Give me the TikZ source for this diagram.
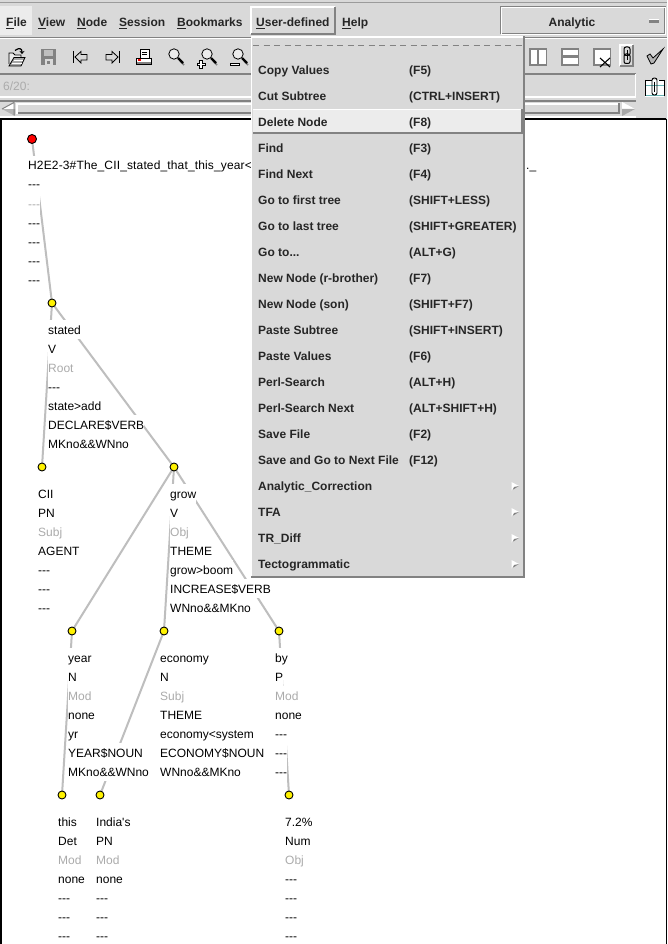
\documentclass[tikz,border=0pt]{standalone}
\usepackage{fontspec}
\newfontfamily\uifont{Liberation Sans}
\usetikzlibrary{calc,arrows.meta}
\definecolor{chrome}{HTML}{D9D9D9}
\definecolor{lite}{HTML}{ECECEC}
\definecolor{bevelgray}{HTML}{828282}
\definecolor{edgegray}{HTML}{BEBEBE}
\definecolor{dim}{HTML}{ABABAB}
\pgfdeclarelayer{canvas}\pgfdeclarelayer{edges}\pgfdeclarelayer{chromelayer}
\pgfsetlayers{canvas,edges,main,chromelayer}
\newcommand\dimt[1]{\textcolor{dim}{#1}}
\newcommand\gotolabel{Go to...}
\newcommand\ulc[1]{\setbox0\hbox{#1}\rlap{\rule[-2.6pt]{\wd0}{1pt}}#1}
\newcommand\rowsat[4]{\foreach \t [count=\i from 0] in {#4} {\node[rowtext] (#1-\i) at (#2,{#3+19*\i+4}) {\t};}}
\newcommand\raisedbox[4]{%
  \fill[chrome] (#1,#2) rectangle (#3,#4);
  \draw[white,line width=2pt] (#1+1,#4-1) -- (#1+1,#2+1) -- (#3-1,#2+1);
  \draw[bevelgray,line width=2pt] (#1+1,#4-1) -- (#3-1,#4-1) -- (#3-1,#2+1);}
\newcommand\magglass[2]{%
  \draw[bevelgray,line width=1.5pt] (#1+6,#2+7) -- (#1+10,#2+11);
  \draw[black,line width=2.4pt] (#1+4,#2+4) -- (#1+9,#2+9);
  \draw[black,fill=lite,line width=.8pt] (#1,#2) circle (5.2);}
\tikzset{
  rowtext/.style={anchor=base west,inner sep=0pt,fill=white,text height=14.4pt,text depth=4.6pt,text=black,font=\uifont\fontsize{12}{14}\selectfont},
  treedot/.style={circle,draw=black,line width=.9pt,fill=yellow,minimum size=8pt,inner sep=0pt},
  rootdot/.style={treedot,fill=red,minimum size=9pt},
  link/.style={draw=edgegray,line width=2pt},
  menutext/.style={anchor=base west,inner sep=0pt,text=black!85,font=\uifont\bfseries\fontsize{12}{14}\selectfont},
  plaintext/.style={anchor=base west,inner sep=0pt,text=black,font=\uifont\fontsize{12}{14}\selectfont},
  icon/.style={draw=black,line width=.8pt},
}
\begin{document}
\begin{tikzpicture}[x=1pt,y=-1pt]
\useasboundingbox (0,0) rectangle (667,944);
\begin{pgfonlayer}{canvas}
  \fill[chrome] (0,0) rectangle (667,944);
  \fill[white] (0,119) rectangle (666,944);
  \draw[black,line width=2.4pt] (0.8,944) -- (0.8,119.2) -- (666,119.2);
  \draw[black,line width=1pt] (666,119) -- (666,944);
\end{pgfonlayer}

% tree nodes
\node[rootdot] (root) at (32,139) {};
\node[treedot] (stated) at (52,303) {};
\node[treedot] (cii) at (42,467) {};
\node[treedot] (grow) at (174,467) {};
\node[treedot] (year) at (72,631) {};
\node[treedot] (economy) at (164,631) {};
\node[treedot] (by) at (279,631) {};
\node[treedot] (this) at (62,795) {};
\node[treedot] (india) at (100,795) {};
\node[treedot] (num) at (289,795) {};

\begin{pgfonlayer}{edges}
  \draw[link] (root.center) -- (stated.center);
  \draw[link] (stated.center) -- (cii.center);
  \draw[link] (stated.center) -- (grow.center);
  \draw[link] (grow.center) -- (year.center);
  \draw[link] (grow.center) -- (economy.center);
  \draw[link] (grow.center) -- (by.center);
  \draw[link] (year.center) -- (this.center);
  \draw[link] (economy.center) -- (india.center);
  \draw[link] (by.center) -- (num.center);
\end{pgfonlayer}

\rowsat{rootrow}{28}{166}{{\addfontfeature{LetterSpace=1.2}H2E2-3\#The\_CII\_stated\_that\_this\_year<},---,\dimt{---},---,---,---,---}
\node[rowtext] (rootend) at (526,170) {.\_};
\rowsat{statedrow}{48}{330}{stated,V,\dimt{Root},---,state>add,DECLARE\$VERB,MKno\&\&WNno}
\rowsat{ciirow}{38}{494}{CII,PN,\dimt{Subj},AGENT,---,---,---}
\rowsat{growrow}{170}{494}{grow,V,\dimt{Obj},THEME,grow>boom,INCREASE\$VERB,WNno\&\&MKno}
\rowsat{yearrow}{68}{658}{year,N,\dimt{Mod},none,yr,YEAR\$NOUN,MKno\&\&WNno}
\rowsat{economyrow}{160}{658}{economy,N,\dimt{Subj},THEME,economy<system,ECONOMY\$NOUN,WNno\&\&MKno}
\rowsat{byrow}{275}{658}{by,P,\dimt{Mod},none,---,---,---}
\rowsat{thisrow}{58}{822}{this,Det,\dimt{Mod},none,---,---,---}
\rowsat{indiarow}{96}{822}{India's,PN,\dimt{Mod},none,---,---,---}
\rowsat{numrow}{285}{822}{7.2\%,Num,\dimt{Obj},---,---,---,---}

\begin{pgfonlayer}{chromelayer}
  % top bars
  \draw[bevelgray!80,line width=1pt] (0,2.5) -- (667,2.5);
  \fill[lite] (0,6) rectangle (32,35);
  \draw[bevelgray,line width=1pt] (0,37.2) -- (667,37.2);
  \draw[white,line width=1.2pt] (0,38.6) -- (667,38.6);
  \node[menutext] (mfile) at (6,26.5) {\ulc{F}ile};
  \node[menutext] (mview) at (38,26.5) {\ulc{V}iew};
  \node[menutext] (mnode) at (77,26.5) {\ulc{N}ode};
  \node[menutext] (msession) at (119,26.5) {\ulc{S}ession};
  \node[menutext] (mbook) at (177,26.5) {\ulc{B}ookmarks};
  \node[menutext] (mhelp) at (342,26.5) {\ulc{H}elp};
  % Analytic selector
  \fill[chrome] (500,6) rectangle (666,35);
  \draw[bevelgray,line width=1pt] (500.5,34.5) -- (500.5,6.5) -- (665.5,6.5);
  \draw[white,line width=1pt] (501.5,34) -- (501.5,7.5) -- (664.5,7.5);
  \draw[white,line width=1pt] (500.5,34.5) -- (665.5,34.5) -- (665.5,7);
  \draw[bevelgray,line width=1pt] (502,33.5) -- (664.5,33.5) -- (664.5,8);
  \node[menutext,anchor=base] (manalytic) at (572,26.5) {Analytic};
  \fill[white] (649,19) rectangle (659,20.5);
  \fill[bevelgray] (649,20.5) rectangle (659,23);
  % toolbar strip
  \draw[bevelgray,line width=2pt] (0,74) -- (636,74);
  \draw[white,line width=2pt] (0,97) -- (636,97);
  \draw[white,line width=1.4pt] (635.5,74) -- (635.5,97);
  \node[plaintext,text=dim] (pos) at (3,90.5) {6/20:};
  % scrollbar
  \draw[bevelgray,line width=2pt] (0,101) -- (636,101);
  \draw[white,line width=1.4pt] (0,117) -- (636,117);
  \fill[white] (16,103) rectangle (620,105);
  \fill[bevelgray] (16,112) rectangle (620,114.5);
  \fill[bevelgray] (618,103) rectangle (620,114.5);
  \fill[white] (16,103) rectangle (18,114);
  \fill[bevelgray!60] (15,109) -- (2,109) -- (15,116) -- cycle;
  \fill[white] (15,102) -- (2,109) -- (15,109) -- cycle;
  \draw[bevelgray,line width=1pt] (2,109) -- (14,102.5) -- (14,115.5);
  \fill[white] (622,102) -- (635,109) -- (622,109) -- cycle;
  \fill[bevelgray!70] (622,109) -- (635,109) -- (622,116) -- cycle;
  % icons: open
  \filldraw[icon,fill=lite] (9,64) -- (9,53) -- (13,53) -- (15,55) -- (21,55) -- (21,58);
  \filldraw[icon,fill=bevelgray!70] (9,66) -- (14,57.5) -- (25,57.5) -- (21,66) -- cycle;
  \draw[white,line width=.8pt] (12,63.5) -- (22,63.5) (13.5,60.5) -- (23,60.5);
  \draw[black,line width=1.2pt,-{Stealth[length=3pt,width=5pt]}] (15,50.5) .. controls (19,47.5) and (22,48) .. (22,54);
  % save
  \fill[bevelgray] (41,49) rectangle (56,65);
  \fill[chrome!70!bevelgray] (44,50) rectangle (53,56);
  \fill[chrome] (45,59) rectangle (53,65);
  \fill[bevelgray] (47,61) rectangle (50,64);
  % prev and next
  \draw[black,line width=1pt] (73.5,51) -- (73.5,63.5);
  \filldraw[icon,fill=chrome] (75,57) -- (81,51.5) -- (81,54.5) -- (87,54.5) -- (87,60) -- (81,60) -- (81,63) -- cycle;
  \draw[black,line width=1pt] (119.5,51) -- (119.5,63.5);
  \filldraw[icon,fill=chrome] (118,57) -- (112,51.5) -- (112,54.5) -- (106,54.5) -- (106,60) -- (112,60) -- (112,63) -- cycle;
  % print
  \filldraw[icon,fill=white] (140,49) rectangle (149,58);
  \draw[black,line width=.7pt] (142,52) -- (147,52) (142,54.5) -- (147,54.5);
  \filldraw[icon,fill=white] (136.5,58) rectangle (151.5,64.5);
  \fill[bevelgray] (137,62) rectangle (151,64.2);
  \fill[red] (138,59.5) rectangle (141,60.8);
  % magnifiers
  \magglass{174}{54}
  \magglass{207}{54}
  \magglass{238}{54}
  \filldraw[icon,fill=white] (199.5,60.5) rectangle (202.5,68);
  \filldraw[icon,fill=white] (197,63) rectangle (205,65.8);
  \fill[white] (200,61) rectangle (202,67.5);
  \filldraw[icon,fill=white] (230,63) rectangle (239,65.5);
  % split views
  \filldraw[draw=bevelgray,line width=1.6pt,fill=white] (529.8,48.8) rectangle (546.5,64.8);
  \fill[bevelgray] (536.8,48.8) rectangle (539.2,64.8);
  \filldraw[draw=bevelgray,line width=1.6pt,fill=white] (561.8,48.8) rectangle (578.5,64.8);
  \fill[bevelgray] (561.8,55.5) rectangle (578.5,58);
  \filldraw[draw=bevelgray,line width=1.6pt,fill=white] (593.8,48.8) rectangle (610.5,64.8);
  \draw[black,line width=1.1pt] (600,58) -- (610,67) (600,67) -- (610,58);
  % link button
  \raisedbox{619}{44}{634}{67}
  \draw[black,line width=1pt,rounded corners=2pt] (624,47) rectangle (630,55.5);
  \draw[black,line width=1pt,rounded corners=2pt] (624,54) rectangle (630,63.5);
  \draw[black,line width=.7pt] (627,50) -- (627,60);
  % check
  \filldraw[icon,fill=bevelgray!60] (647,56) -- (650,54) -- (653,58) -- (663,49) -- (654,63) -- (651,64) -- cycle;
  % clip
  \fill[white] (645,80) rectangle (664,97);
  \draw[black,line width=.8pt] (645,80) -- (645,96) (664,80) -- (664,96) (645,80) -- (652,80) (659,80) -- (664,80);
  \draw[teal!60,line width=.8pt] (646,85.5) -- (664,85.5) (646,95) -- (664,95);
  \draw[black,line width=.9pt,rounded corners=2.2pt] (652,78) rectangle (657,95);
  \draw[black,line width=.7pt] (654.5,82) -- (654.5,92);

  % User-defined button
  \raisedbox{250}{6}{336}{35}
  \node[menutext] (muser) at (256,26.5) {\ulc{U}ser-defined};

  % dropdown menu
  \fill[chrome] (251,36) rectangle (525,578);
  \draw[white,line width=1.5pt] (251,37) -- (524,37);
  \draw[white,line width=1pt] (251.5,36) -- (251.5,577);
  \draw[bevelgray,line width=2pt] (251,577) -- (524,577) -- (524,36.5);
  \draw[bevelgray,line width=1pt,dash pattern=on 6pt off 4.5pt] (253,45.5) -- (522,45.5);
  \fill[lite] (253,109) rectangle (522,134);
  \draw[white,line width=1.5pt] (253,109.5) -- (522,109.5);
  \draw[bevelgray,line width=2pt] (253,133.5) -- (521.5,133.5) -- (521.5,109);
  \foreach \lab/\key [count=\n from 0] in {
    Copy Values/(F5),
    Cut Subtree/(CTRL+INSERT),
    Delete Node/(F8),
    Find/(F3),
    Find Next/(F4),
    Go to first tree/(SHIFT+LESS),
    Go to last tree/(SHIFT+GREATER),
    \gotolabel/(ALT+G),
    New Node (r-brother)/(F7),
    New Node (son)/(SHIFT+F7),
    Paste Subtree/(SHIFT+INSERT),
    Paste Values/(F6),
    Perl-Search/(ALT+H),
    Perl-Search Next/(ALT+SHIFT+H),
    Save File/(F2),
    Save and Go to Next File/(F12)} {
    \node[menutext] (item\n) at (258,{74.7+26*\n}) {\lab};
    \node[menutext] (key\n) at (409,{74.7+26*\n}) {\key};
  }
  \foreach \lab [count=\n from 16] in {Analytic\_Correction,TFA,TR\_Diff,Tectogrammatic} {
    \node[menutext] (item\n) at (258,{74.7+26*\n}) {\lab};
    \fill[white] (511.5,{70+26*\n-4}) -- (519,{70+26*\n}) -- (511.5,{70+26*\n+4.5}) -- cycle;
    \fill[bevelgray] (512.5,{70+26*\n+4}) -- (519,{70+26*\n}) -- (514,{70+26*\n+1}) -- cycle;
  }
\end{pgfonlayer}
\end{tikzpicture}
\end{document}
